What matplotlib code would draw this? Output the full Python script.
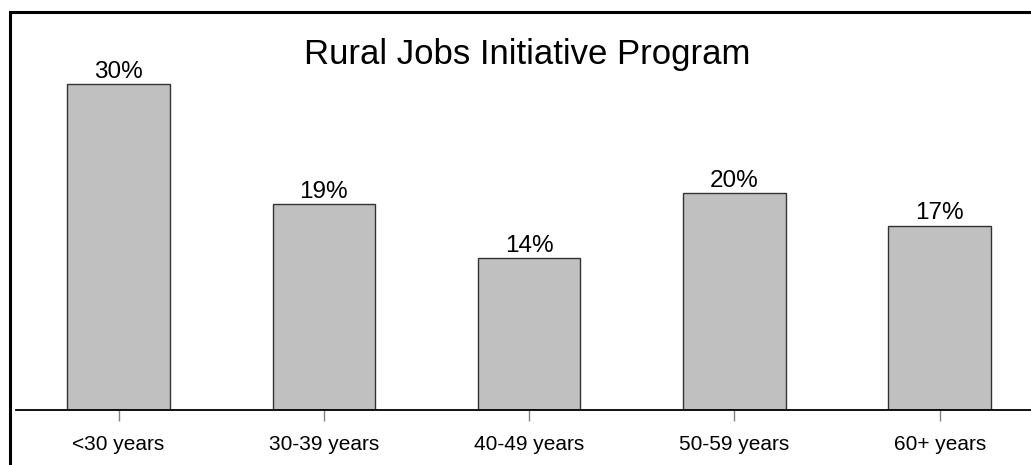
import matplotlib.pyplot as plt
from matplotlib.patches import Rectangle

# ========== Данные ==========
age_groups = ['<30 years', '30-39 years', '40-49 years', '50-59 years', '60+ years']
shares = [30, 19, 14, 20, 17]
title = 'Rural Jobs Initiative Program'

plt.rcParams['font.family'] = ['Liberation Sans', 'DejaVu Sans']

W, H = 1031, 465
fig = plt.figure(figsize=(W / 100, H / 100), dpi=100)

# оси: ось X на y=410 px, шаг категорий ~205 px
ax = fig.add_axes([16 / W, (H - 410) / H, 1026.25 / W, 390.6 / H])
ax.set_xlim(-0.5, 4.5)
ax.set_ylim(0, 36)

x = range(len(age_groups))
ax.bar(x, shares, width=0.5, color='#c0c0c0', edgecolor='#333333', linewidth=1)

for xi, v in zip(x, shares):
    ax.annotate(f'{v}%', (xi, v), xytext=(0, 4.5), textcoords='offset points',
                ha='center', va='baseline', fontsize=17.5)

ax.set_xticks(list(x))
ax.set_xticklabels(age_groups, fontsize=15)
ax.tick_params(axis='x', length=8, width=1, color='#808080', pad=10)
ax.set_yticks([])
for s in ['left', 'right', 'top']:
    ax.spines[s].set_visible(False)
ax.spines['bottom'].set_linewidth(1.3)

fig.text(527 / W, (H - 64) / H, title, ha='center', va='baseline', fontsize=25)

# рамка вокруг рисунка (справа и снизу обрезана)
fig.patches.append(Rectangle((9.5 / W, -0.2), 1.2, (H - 12.5) / H + 0.2,
                             transform=fig.transFigure, fill=False,
                             edgecolor='black', linewidth=2.2))

fig.savefig('out.png', dpi=100)
